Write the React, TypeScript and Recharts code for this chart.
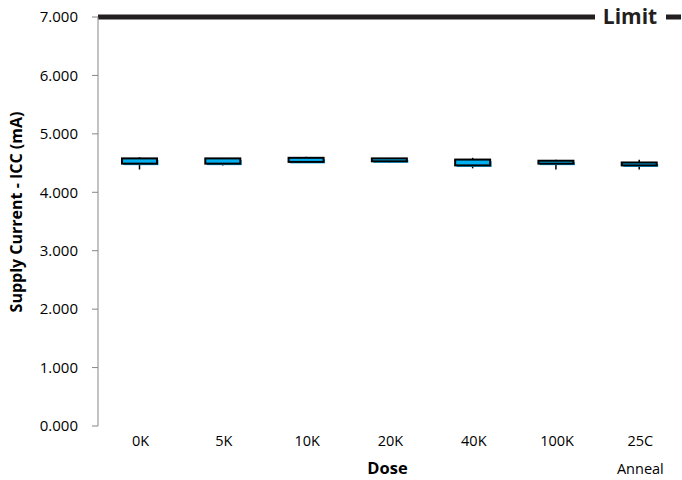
import React from 'react';
import { ComposedChart, Bar, XAxis, YAxis, ReferenceLine } from 'recharts';

const doses = ['0K', '5K', '10K', '20K', '40K', '100K', '25C'];
const doseSub = ['', '', '', '', '', '', 'Anneal'];
const minVals = [4.39, 4.46, 4.52, 4.51, 4.41, 4.39, 4.39];
const q1Vals = [4.49, 4.49, 4.52, 4.53, 4.46, 4.49, 4.46];
const q3Vals = [4.58, 4.58, 4.59, 4.58, 4.56, 4.54, 4.51];
const maxVals = [4.6, 4.58, 4.61, 4.58, 4.59, 4.555, 4.555];
const yTicks = [0, 1, 2, 3, 4, 5, 6, 7];
const boundaryTicks = [0, 1, 2, 3, 4, 5, 6, 7];
const limitValue = 7;

const data = doses.map((d, i) => ({
  dose: d,
  sub: doseSub[i],
  box: [q1Vals[i], q3Vals[i]],
  whisker: [minVals[i], maxVals[i]],
}));

const AXIS = '#868686';
const TICK_FONT = "'Open Sans', sans-serif";
const BOLD_FONT = "'Open Sans', sans-serif";

const BoxShape = (props: any) => {
  const { x, y, width, height } = props;
  const h = Math.max(height, 0);
  return (
    <g>
      <rect x={x + 1.5} y={y + 1.5} width={width} height={h} fill="#00A8EC" />
      <rect x={x} y={y} width={width} height={h} fill="#00B0F0" stroke="#000" strokeWidth={2} />
    </g>
  );
};

const WhiskerShape = (props: any) => {
  const { x, y, width, height } = props;
  const cx = x + width / 2;
  return <line x1={cx} x2={cx} y1={y} y2={y + height} stroke="#000" strokeWidth={1.5} />;
};

const CatTick = (props: any) => {
  const { x, y, payload, index } = props;
  const sub = doseSub[index] || '';
  return (
    <g>
      <text x={x + 1} y={y} dy={12} textAnchor="middle" fontFamily={TICK_FONT} fontSize={14.5} fill="#000">
        {payload.value}
      </text>
      {sub && (
        <text x={x + 1} y={y} dy={40} textAnchor="middle" fontFamily={TICK_FONT} fontSize={14.5} fill="#000">
          {sub}
        </text>
      )}
    </g>
  );
};

const DoseLabel = (props: any) => {
  const { viewBox } = props;
  const cx = viewBox.x + viewBox.width / 2 - 2;
  return (
    <text x={cx} y={viewBox.y + 48} textAnchor="middle" fontFamily={BOLD_FONT} fontWeight={700} fontSize={16.5} fill="#000">
      Dose
    </text>
  );
};

const YLabel = () => {
  const cx = 16;
  const cy = 212;
  return (
    <text
      x={cx}
      y={cy}
      transform={`rotate(-90, ${cx}, ${cy})`}
      textAnchor="middle"
      dominantBaseline="central"
      fontFamily={BOLD_FONT}
      fontWeight={700}
      fontSize={16}
      fill="#000"
    >
      Supply Current - ICC (mA)
    </text>
  );
};

const LimitLabel = (props: any) => {
  const { viewBox } = props;
  const right = viewBox.x + viewBox.width;
  return (
    <g>
      <rect x={right - 86} y={viewBox.y - 12} width={71} height={24} fill="#fff" />
      <text x={right - 51} y={viewBox.y + 7} textAnchor="middle" fontFamily={BOLD_FONT} fontWeight={700} fontSize={21} fill="#231F20">
        Limit
      </text>
    </g>
  );
};

export default function App() {
  return (
    <div style={{ position: 'absolute', left: 0, top: 0, width: 682, height: 480, background: '#fff' }}>
      <ComposedChart width={682} height={480} data={data} margin={{ top: 17, right: 1, bottom: 0, left: 0 }}>
        <XAxis
          xAxisId="grid"
          type="number"
          domain={[0, 7]}
          ticks={boundaryTicks}
          tick={false}
          height={0}
          axisLine={{ stroke: AXIS }}
          tickLine={{ stroke: AXIS }}
          tickSize={6}
        />
        <XAxis
          xAxisId="cat"
          dataKey="dose"
          axisLine={false}
          tickLine={false}
          height={54}
          interval={0}
          tick={<CatTick />}
          label={<DoseLabel />}
        />
        <XAxis xAxisId="w" dataKey="dose" hide />
        <YAxis
          domain={[0, 7]}
          ticks={yTicks}
          interval={0}
          width={98}
          tickFormatter={(v: number) => v.toFixed(3)}
          axisLine={{ stroke: AXIS }}
          tickLine={{ stroke: AXIS }}
          tickSize={6}
          tickMargin={14}
          tick={{ fontFamily: TICK_FONT, fontSize: 15, fill: '#000' }}
          label={<YLabel />}
        />
        <ReferenceLine
          xAxisId="cat"
          y={limitValue}
          stroke="#231F20"
          strokeWidth={5}
          label={<LimitLabel />}
        />
        <Bar xAxisId="w" dataKey="whisker" barSize={35} shape={<WhiskerShape />} isAnimationActive={false} />
        <Bar xAxisId="cat" dataKey="box" barSize={35} shape={<BoxShape />} isAnimationActive={false} />
      </ComposedChart>
    </div>
  );
}
